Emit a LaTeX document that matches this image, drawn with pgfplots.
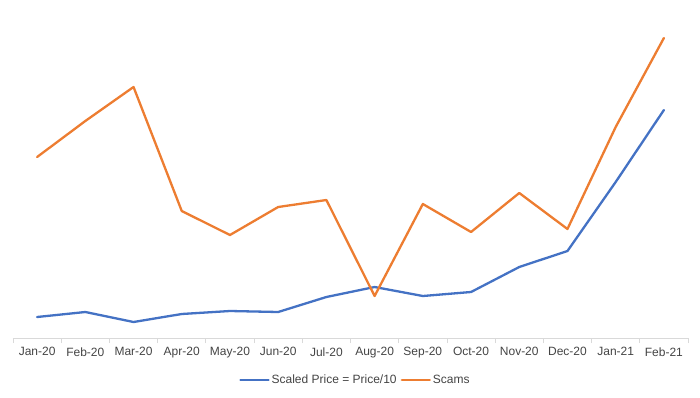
\documentclass[border=0pt]{standalone}
\usepackage{pgfplots}
\pgfplotsset{compat=1.18}
\usepackage{fontspec}
\setmainfont{Liberation Sans}
\definecolor{xblue}{HTML}{4472C4}
\definecolor{xorange}{HTML}{ED7D31}
\definecolor{axgray}{HTML}{D9D9D9}
\definecolor{txtgray}{HTML}{444444}
\begin{document}
\begin{tikzpicture}
\path[use as bounding box] (-13pt,-59pt) rectangle (687pt,338pt);
\begin{axis}[
  scale only axis, width=675pt, height=320pt,
  xmin=-0.5, xmax=13.5, ymin=0, ymax=320,
  clip=false,
  axis x line*=bottom, axis y line=none,
  x axis line style={-, axgray, line width=0.75pt},
  xtick={0,...,13},
  xticklabels={Jan-20,Feb-20,Mar-20,Apr-20,May-20,Jun-20,Jul-20,Aug-20,Sep-20,Oct-20,Nov-20,Dec-20,Jan-21,Feb-21},
  major tick length=0pt,
  minor xtick={-0.5,0.5,...,13.5},
  minor tick length=5pt,
  xtick align=outside,
  minor tick style={axgray, line width=0.75pt},
  xticklabel style={font=\fontsize{12}{14}\selectfont, text=txtgray, yshift=-6pt},
  legend style={draw=none, at={(0.5074,-0.13125)}, anchor=center, legend columns=-1,
    font=\fontsize{12}{14}\selectfont, text=txtgray,
    /tikz/every even column/.append style={column sep=2pt}},
  legend image code/.code={\draw[#1] (0pt,0pt) -- (28pt,0pt);},
  every axis plot/.append style={line width=2.3pt, line join=round, line cap=round, mark=none},
]
\addplot[xblue] coordinates {(0,21) (1,26) (2,16) (3,24) (4,27) (5,26) (6,41) (7,51) (8,42) (9,46) (10,71) (11,87) (12,156) (13,228)};
\addlegendentry{Scaled Price = Price/10}
\addplot[xorange] coordinates {(0,181) (1,217) (2,251) (3,127) (4,103) (5,131) (6,138) (7,42) (8,134) (9,106) (10,145) (11,109) (12,211) (13,300)};
\addlegendentry{Scams}
\end{axis}
\end{tikzpicture}
\end{document}
